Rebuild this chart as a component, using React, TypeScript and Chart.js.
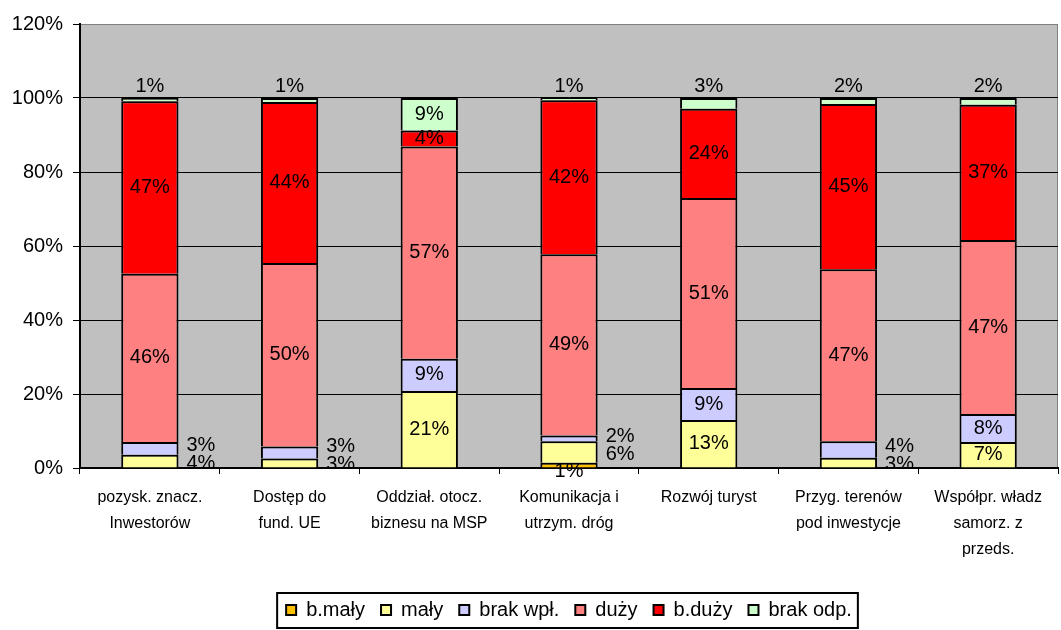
import React, { useEffect, useRef } from 'react';
import { Chart, registerables } from 'chart.js';

Chart.register(...registerables);

const categories: string[][] = [
  ['pozysk. znacz.', 'Inwestorów'],
  ['Dostęp do', 'fund. UE'],
  ['Oddział. otocz.', 'biznesu na MSP'],
  ['Komunikacja i', 'utrzym. dróg'],
  ['Rozwój turyst'],
  ['Przyg. terenów', 'pod inwestycje'],
  ['Współpr. władz', 'samorz. z', 'przeds.'],
];
const seriesNames = ['b.mały', 'mały', 'brak wpł.', 'duży', 'b.duży', 'brak odp.'];
const bMaly = [0, 0, 0, 1.4, 0, 0, 0];
const maly = [3.6, 2.6, 20.8, 5.8, 13.0, 2.8, 7.0];
const brakWpl = [3.4, 3.2, 8.7, 1.6, 8.6, 4.4, 7.6];
const duzy = [45.5, 49.6, 57.4, 49.0, 51.4, 46.5, 47.0];
const bDuzy = [46.6, 43.5, 4.3, 41.6, 24.1, 44.7, 36.6];
const brakOdp = [0.9, 1.1, 8.8, 0.6, 2.9, 1.6, 1.8];
const yTicks = [0, 20, 40, 60, 80, 100, 120];

// styling
const seriesColors = ['#FFC000', '#FFFF99', '#CCCCFF', '#FF8080', '#FF0000', '#CCFFCC'];
type Pl = 'in' | 'right' | 'above' | 'below';
const labelPlacement: Pl[][] = [
  ['in', 'in', 'in', 'below', 'in', 'in', 'in'],
  ['right', 'right', 'in', 'right', 'in', 'right', 'in'],
  ['right', 'right', 'in', 'right', 'in', 'right', 'in'],
  ['in', 'in', 'in', 'in', 'in', 'in', 'in'],
  ['in', 'in', 'in', 'in', 'in', 'in', 'in'],
  ['above', 'above', 'in', 'above', 'above', 'above', 'above'],
];

const FONT = '"Liberation Sans", Arial, sans-serif';

const bgPlugin = {
  id: 'plotBg',
  beforeDraw(chart: any) {
    const { ctx, chartArea: a } = chart;
    ctx.save();
    ctx.fillStyle = '#C0C0C0';
    ctx.fillRect(a.left, a.top, a.right - a.left, a.bottom - a.top);
    ctx.strokeStyle = '#808080';
    ctx.lineWidth = 1;
    ctx.strokeRect(a.left + 0.5, a.top + 0.5, a.right - a.left - 1, a.bottom - a.top - 1);
    ctx.restore();
  },
};

const labelPlugin = {
  id: 'segLabels',
  afterDatasetsDraw(chart: any) {
    const { ctx, chartArea: area } = chart;
    ctx.save();
    ctx.font = '20px ' + FONT;
    ctx.fillStyle = '#000';
    ctx.textBaseline = 'middle';
    const n = chart.data.labels.length;
    for (let j = 0; j < n; j++) {
      const rightItems: { x: number; y: number; text: string }[] = [];
      chart.data.datasets.forEach((ds: any, i: number) => {
        const el = chart.getDatasetMeta(i).data[j];
        const v = ds.data[j];
        if (!v) return;
        const text = Math.round(v) + '%';
        const mode = labelPlacement[i][j];
        const top = Math.min(el.y, el.base);
        const bottom = Math.max(el.y, el.base);
        const cy = (top + bottom) / 2;
        if (mode === 'in') {
          ctx.textAlign = 'center';
          ctx.fillText(text, el.x, cy);
        } else if (mode === 'above') {
          ctx.textAlign = 'center';
          ctx.fillText(text, el.x, top - 12);
        } else if (mode === 'below') {
          ctx.textAlign = 'center';
          ctx.fillText(text, el.x, bottom + 4);
        } else {
          rightItems.push({ x: el.x + el.width / 2 + 8, y: cy, text });
        }
      });
      rightItems.sort((a, b) => b.y - a.y);
      ctx.save();
      ctx.beginPath();
      ctx.rect(area.left, area.top, area.right - area.left, area.bottom - area.top);
      ctx.clip();
      let prev = Infinity;
      for (const it of rightItems) {
        const y = Math.min(it.y + 2, prev - 18);
        prev = y;
        ctx.textAlign = 'left';
        ctx.fillText(it.text, it.x, y);
      }
      ctx.restore();
    }
    ctx.restore();
  },
};

const legendBoxPlugin = {
  id: 'legendBox',
  afterDraw(chart: any) {
    const lg = chart.legend;
    if (!lg || !lg.legendHitBoxes || !lg.legendHitBoxes.length) return;
    const hb = lg.legendHitBoxes;
    const left = Math.min(...hb.map((h: any) => h.left)) - 9;
    const right = Math.max(...hb.map((h: any) => h.left + h.width)) + 6;
    const mid = hb[0].top + hb[0].height / 2;
    const top = mid - 17;
    const bottom = Math.min(mid + 18, chart.height - 1);
    const { ctx } = chart;
    ctx.save();
    ctx.strokeStyle = '#000';
    ctx.lineWidth = 2;
    ctx.strokeRect(left, top, right - left, bottom - top);
    ctx.restore();
  },
};

export default function App() {
  const ref = useRef<HTMLCanvasElement>(null);
  useEffect(() => {
    document.body.style.margin = '0';
    const values = [bMaly, maly, brakWpl, duzy, bDuzy, brakOdp];
    const chart = new Chart(ref.current!, {
      type: 'bar',
      data: {
        labels: categories,
        datasets: seriesNames.map((name, i) => ({
          label: name,
          data: values[i],
          backgroundColor: seriesColors[i],
          borderColor: '#000',
          borderWidth: 2,
          barPercentage: 0.41,
          categoryPercentage: 1,
          stack: 's',
        })),
      },
      options: {
        animation: false,
        responsive: false,
        devicePixelRatio: 1,
        layout: { padding: { top: 24, right: 3, bottom: 0, left: 0 } },
        plugins: {
          tooltip: { enabled: false },
          legend: {
            position: 'bottom',
            fullSize: false,
            labels: {
              boxWidth: 10,
              boxHeight: 10,
              padding: 16,
              color: '#000',
              font: { family: FONT, size: 20 },
            },
          },
        },
        scales: {
          x: {
            stacked: true,
            afterFit: (s: any) => { s.height = 116; },
            grid: { display: true, drawOnChartArea: false, drawTicks: true, tickLength: 6, tickColor: '#000', offset: true },
            border: { color: '#000', width: 2 },
            ticks: { color: '#000', padding: 11, maxRotation: 0, autoSkip: false, font: { family: FONT, size: 16, lineHeight: '26px' } },
          },
          y: {
            stacked: true,
            min: yTicks[0],
            max: yTicks[yTicks.length - 1],
            afterFit: (s: any) => { s.width = 80; },
            afterBuildTicks: (s: any) => { s.ticks = yTicks.map((v) => ({ value: v })); },
            grid: {
              color: (c: any) => (c.tick && c.tick.value === 120 ? '#808080' : '#000'),
              tickColor: '#000',
              tickLength: 7,
              lineWidth: 1,
            },
            border: { color: '#000', width: 2 },
            ticks: { color: '#000', padding: 10, font: { family: FONT, size: 20 }, callback: (v: any) => v + '%' },
          },
        },
      },
      plugins: [bgPlugin, labelPlugin, legendBoxPlugin],
    } as any);
    return () => chart.destroy();
  }, []);
  return (
    <div style={{ width: 1061, height: 630 }}>
      <canvas ref={ref} width={1061} height={630} />
    </div>
  );
}
